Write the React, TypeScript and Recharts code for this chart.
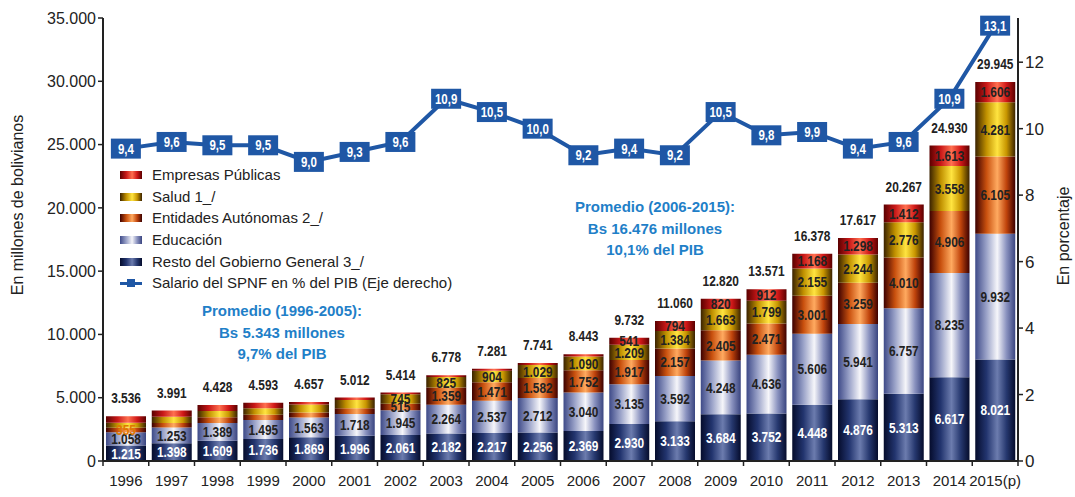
import React from "react";
import {
  ComposedChart,
  Bar,
  Line,
  XAxis,
  YAxis,
  LabelList,
} from "recharts";

const years = ["1996", "1997", "1998", "1999", "2000", "2001", "2002", "2003", "2004", "2005", "2006", "2007", "2008", "2009", "2010", "2011", "2012", "2013", "2014", "2015(p)"];
const resto = [1215, 1398, 1609, 1736, 1869, 1996, 2061, 2182, 2217, 2256, 2369, 2930, 3133, 3684, 3752, 4448, 4876, 5313, 6617, 8021];
const educacion = [1058, 1253, 1389, 1495, 1563, 1718, 1945, 2264, 2537, 2712, 3040, 3135, 3592, 4248, 4636, 5606, 5941, 6757, 8235, 9932];
const entidades = [355, 360, 460, 422, 405, 448, 515, 1359, 1471, 1582, 1752, 1917, 2157, 2405, 2471, 3001, 3259, 4010, 4906, 6105];
const salud = [400, 480, 500, 520, 620, 650, 745, 825, 904, 1029, 1090, 1209, 1384, 1663, 1799, 2155, 2244, 2776, 3558, 4281];
const empresas = [508, 500, 470, 420, 200, 200, 148, 148, 152, 162, 192, 541, 794, 820, 912, 1168, 1298, 1412, 1613, 1606];
const totales = [3536, 3991, 4428, 4593, 4657, 5012, 5414, 6778, 7281, 7741, 8443, 9732, 11060, 12820, 13571, 16378, 17617, 20267, 24930, 29945];
const salario = [9.4, 9.6, 9.5, 9.5, 9.0, 9.3, 9.6, 10.9, 10.5, 10.0, 9.2, 9.4, 9.2, 10.5, 9.8, 9.9, 9.4, 9.6, 10.9, 13.1];

const leftTicks = [0, 5000, 10000, 15000, 20000, 25000, 30000, 35000];
const rightTicks = [0, 2, 4, 6, 8, 10, 12];

const data = years.map((year, i) => ({
  year,
  resto: resto[i],
  educacion: educacion[i],
  entidades: entidades[i],
  salud: salud[i],
  empresas: empresas[i],
  salario: salario[i],
}));

const SANS = "'Liberation Sans', Arial, sans-serif";
const BLUE = "#1f57a5";
const NOTE = "#1f80c8";
const SQUEEZE = 0.82; // the source uses a narrow bold face for the numbers

const miles = (v: number) => String(v).replace(/\B(?=(\d{3})+(?!\d))/g, ".");

// narrow bold text centred on (x, y)
const NarrowText = ({ x, y, fill, size = 14, children }: any) => (
  <text
    transform={`translate(${x},${y}) scale(${SQUEEZE},1)`}
    dy="0.36em"
    textAnchor="middle"
    fill={fill}
    fontSize={size}
    fontWeight={700}
    fontFamily={SANS}
  >
    {children}
  </text>
);

const segLabel = (color: string, from: number, extra: number[] = [], extraColor?: string) =>
  (props: any) => {
    const { x, y, width, height, value, index } = props;
    const isExtra = extra.includes(index);
    if (index < from && !isExtra) return null;
    return (
      <NarrowText x={x + width / 2} y={y + height / 2} fill={isExtra && extraColor ? extraColor : color} size={14.5}>
        {miles(value)}
      </NarrowText>
    );
  };

const totalLabel = (props: any) => {
  const { x, y, width, index } = props;
  return (
    <NarrowText x={x + width / 2} y={y - 18} fill="#222" size={14.5}>
      {miles(totales[index])}
    </NarrowText>
  );
};

const SalarioDot = (props: any) => {
  const { cx, cy, value, index } = props;
  if (cx == null || cy == null) return null;
  return (
    <g key={`dot-${index}`}>
      <rect x={cx - 15} y={cy - 10} width={30} height={20} fill={BLUE} />
      <NarrowText x={cx} y={cy} fill="#fff" size={14}>
        {Number(value).toFixed(1).replace(".", ",")}
      </NarrowText>
    </g>
  );
};

const BAND = 915 / years.length;

const YearTick = (props: any) => {
  const { x, y, payload, index } = props;
  return (
    <g>
      <line x1={x - BAND / 2} x2={x - BAND / 2} y1={y - 8} y2={y - 3} stroke="#222" strokeWidth={1.5} />
      {index === years.length - 1 && (
        <line x1={x + BAND / 2} x2={x + BAND / 2} y1={y - 8} y2={y - 3} stroke="#222" strokeWidth={1.5} />
      )}
      <text x={x} y={y + 17} textAnchor="middle" fill="#222" fontSize={15} fontFamily={SANS}>
        {payload.value}
      </text>
    </g>
  );
};

const grads = [
  { id: "gEmp", stops: ["#5a0000", "#c81818", "#ff7050", "#d01818", "#5a0000"] },
  { id: "gSal", stops: ["#3a2200", "#c09000", "#ffe440", "#c89600", "#3a2200"] },
  { id: "gEnt", stops: ["#3c0000", "#c8500e", "#ffaa60", "#c0440c", "#3c0000"] },
  { id: "gEdu", stops: ["#3e4a88", "#9aa2c8", "#f6f6fa", "#8a92bf", "#3a4580"] },
  { id: "gRes", stops: ["#050c2c", "#22346e", "#6c7cae", "#26386f", "#050c2c"] },
];
const offsets = ["0%", "28%", "55%", "78%", "100%"];

const legendItems = [
  { label: "Empresas Públicas", g: grads[0] },
  { label: "Salud 1_/", g: grads[1] },
  { label: "Entidades Autónomas 2_/", g: grads[2] },
  { label: "Educación", g: grads[3] },
  { label: "Resto del Gobierno General 3_/", g: grads[4] },
];

export default function App() {
  return (
    <div
      style={{
        position: "absolute",
        left: 0,
        top: 0,
        width: 1075,
        height: 497,
        background: "#fff",
        fontFamily: SANS,
      }}
    >
      <ComposedChart
        width={1075}
        height={497}
        data={data}
        margin={{ top: 18, right: 0, bottom: 0, left: 0 }}
        barSize={40}
      >
        <defs>
          {grads.map((g) => (
            <linearGradient key={g.id} id={g.id} x1="0" y1="0" x2="1" y2="0">
              {g.stops.map((c, i) => (
                <stop key={i} offset={offsets[i]} stopColor={c} />
              ))}
            </linearGradient>
          ))}
        </defs>
        <XAxis
          dataKey="year"
          height={36}
          axisLine={{ stroke: "#222", strokeWidth: 2 }}
          tickLine={false}
          tick={<YearTick />}
          interval={0}
        />
        <YAxis
          yAxisId="left"
          width={103}
          domain={[0, 35000]}
          ticks={leftTicks}
          tickFormatter={miles}
          axisLine={{ stroke: "#222", strokeWidth: 2 }}
          tickLine={{ stroke: "#222", strokeWidth: 1.5 }}
          tickSize={5}
          tick={{ fill: "#222", fontSize: 16, fontFamily: SANS }}
          interval={0}
        />
        <YAxis
          yAxisId="right"
          orientation="right"
          width={57}
          domain={[0, 13.33]}
          ticks={rightTicks}
          axisLine={{ stroke: "#222", strokeWidth: 2 }}
          tickLine={{ stroke: "#222", strokeWidth: 1.5 }}
          tickSize={5}
          tick={{ fill: "#222", fontSize: 17, fontFamily: SANS }}
          interval={0}
        />
        <Bar yAxisId="left" dataKey="resto" stackId="a" fill="url(#gRes)" isAnimationActive={false}>
          <LabelList dataKey="resto" content={segLabel("#fff", 0)} />
        </Bar>
        <Bar yAxisId="left" dataKey="educacion" stackId="a" fill="url(#gEdu)" isAnimationActive={false}>
          <LabelList dataKey="educacion" content={segLabel("#222", 0)} />
        </Bar>
        <Bar yAxisId="left" dataKey="entidades" stackId="a" fill="url(#gEnt)" isAnimationActive={false}>
          <LabelList dataKey="entidades" content={segLabel("#222", 6, [0], "#e07800")} />
        </Bar>
        <Bar yAxisId="left" dataKey="salud" stackId="a" fill="url(#gSal)" isAnimationActive={false}>
          <LabelList dataKey="salud" content={segLabel("#222", 6)} />
        </Bar>
        <Bar yAxisId="left" dataKey="empresas" stackId="a" fill="url(#gEmp)" isAnimationActive={false}>
          <LabelList dataKey="empresas" content={segLabel("#222", 11)} />
          <LabelList dataKey="empresas" content={totalLabel} />
        </Bar>
        <Line
          yAxisId="right"
          dataKey="salario"
          stroke={BLUE}
          strokeWidth={4}
          dot={<SalarioDot />}
          activeDot={false}
          isAnimationActive={false}
        />
      </ComposedChart>

      {/* axis titles */}
      <div
        style={{
          position: "absolute",
          left: 18,
          top: 205,
          transform: "translate(-50%, -50%) rotate(-90deg)",
          whiteSpace: "nowrap",
          fontSize: 16,
          color: "#222",
        }}
      >
        En millones de bolivianos
      </div>
      <div
        style={{
          position: "absolute",
          left: 1064,
          top: 236,
          transform: "translate(-50%, -50%) rotate(-90deg)",
          whiteSpace: "nowrap",
          fontSize: 16,
          color: "#222",
        }}
      >
        En porcentaje
      </div>

      {/* legend */}
      <div style={{ position: "absolute", left: 120, top: 164, fontSize: 15, color: "#222", lineHeight: "21.7px" }}>
        {legendItems.map((it) => (
          <div key={it.label} style={{ display: "flex", alignItems: "center", height: 21.7 }}>
            <span
              style={{
                width: 22,
                height: 8,
                marginRight: 10,
                background: `linear-gradient(to right, ${it.g.stops
                  .map((c, i) => `${c} ${offsets[i]}`)
                  .join(", ")})`,
              }}
            />
            {it.label}
          </div>
        ))}
        <div style={{ display: "flex", alignItems: "center", height: 21.7 }}>
          <span style={{ position: "relative", width: 22, height: 3, marginRight: 10, background: BLUE }}>
            <span style={{ position: "absolute", left: 7, top: -3, width: 8, height: 8, background: BLUE }} />
          </span>
          Salario del SPNF en % del PIB (Eje derecho)
        </div>
      </div>

      {/* averages */}
      <div
        style={{
          position: "absolute",
          left: 282,
          top: 300,
          transform: "translateX(-50%)",
          textAlign: "center",
          color: NOTE,
          fontWeight: 700,
          fontSize: 15,
          lineHeight: "21.5px",
          whiteSpace: "nowrap",
        }}
      >
        Promedio (1996-2005):
        <br />
        Bs 5.343 millones
        <br />
        9,7% del PIB
      </div>
      <div
        style={{
          position: "absolute",
          left: 655,
          top: 196,
          transform: "translateX(-50%)",
          textAlign: "center",
          color: NOTE,
          fontWeight: 700,
          fontSize: 15,
          lineHeight: "21.5px",
          whiteSpace: "nowrap",
        }}
      >
        Promedio (2006-2015):
        <br />
        Bs 16.476 millones
        <br />
        10,1% del PIB
      </div>
    </div>
  );
}
